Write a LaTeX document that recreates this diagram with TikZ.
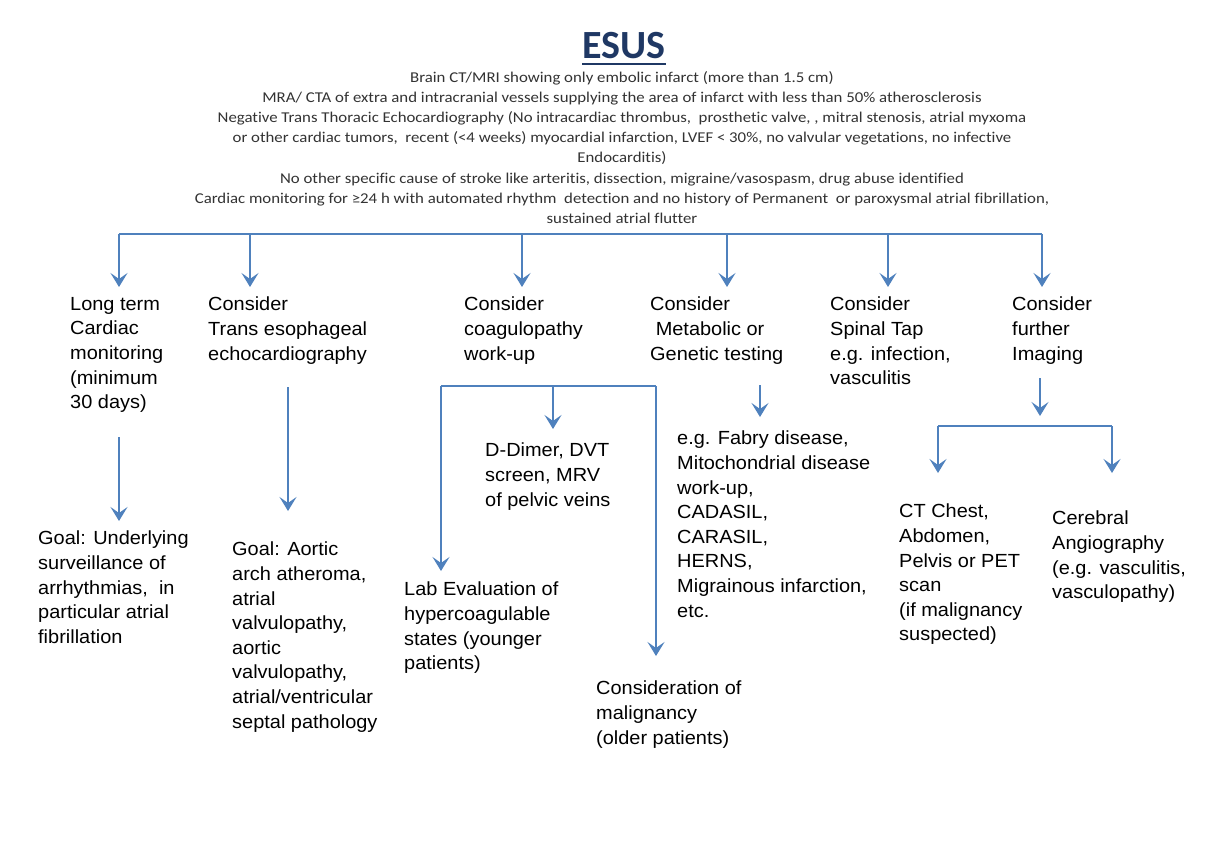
\documentclass[tikz,border=0pt]{standalone}
\usepackage{fontspec}
\setmainfont{Liberation Sans}[FakeStretch=1.05]
\newfontfamily\hdrfont{Carlito}[FakeStretch=1.12,Ligatures=NoCommon]
\newfontfamily\titlefont{Carlito}
\usetikzlibrary{arrows.meta}
\definecolor{linkblue}{HTML}{4F81BD}
\definecolor{esusblue}{HTML}{1F3864}
\definecolor{hdrgray}{HTML}{333333}
\begin{document}
\begin{tikzpicture}[x=1pt,y=-1pt,
	box/.style={anchor=north west,align=left,inner sep=0pt,font=\fontsize{19}{24.6}\selectfont},
	hdr/.style={anchor=north,align=center,inner sep=0pt,text=hdrgray,font=\hdrfont\fontsize{15}{20.2}\selectfont},
	bar/.style={draw=linkblue,line width=1.5pt},
	arr/.style={bar,-{Stealth[length=14pt,width=17pt,inset=6pt]}}]
\useasboundingbox[fill=white] (0,0) rectangle (1225,861);

% title and entry criteria
\node[inner sep=0pt,text=esusblue,font=\titlefont\bfseries\fontsize{40}{40}\selectfont] (esus) at (624,46) {ESUS};
\draw[esusblue,line width=2.5pt] ([yshift=-5pt]esus.base west) -- ([yshift=-5pt]esus.base east);
\node[hdr] (crit) at (622,71) {Brain CT/MRI showing only embolic infarct (more than 1.5 cm)\\
MRA/ CTA of extra and intracranial vessels supplying the area of infarct with less than 50\% atherosclerosis\\
Negative Trans Thoracic Echocardiography (No intracardiac thrombus,\ \ prosthetic valve, , mitral stenosis, atrial myxoma\\
or other cardiac tumors,\ \ recent (<4 weeks) myocardial infarction, LVEF < 30\%, no valvular vegetations, no infective\\
Endocarditis)\\
No other specific cause of stroke like arteritis, dissection, migraine/vasospasm, drug abuse identified\\
Cardiac monitoring for ≥24 h with automated rhythm\ \ detection and no history of Permanent\ \ or paroxysmal atrial fibrillation,\\
sustained atrial flutter};

% first level
\node[box] (ltcm) at (70,297) {Long term\\Cardiac\\monitoring\\(minimum\\30 days)};
\node[box] (tee) at (208,297) {Consider\\Trans esophageal\\echocardiography};
\node[box] (coag) at (464,297) {Consider\\coagulopathy\\work-up};
\node[box] (meta) at (650,297) {Consider\\\ Metabolic or\\Genetic testing};
\node[box] (spin) at (830,297) {Consider\\Spinal Tap\\e.g. infection,\\vasculitis};
\node[box] (img) at (1012,297) {Consider\\further\\Imaging};

\coordinate (tl) at (119,234);
\coordinate (tr) at (1042,234);
\draw[bar] (tl) -- (tr);
\foreach \dx/\n in {119/ltcm,250/tee,522/coag,727/meta,888/spin,1042/img}
	\draw[arr,shorten >=10pt] (\dx,234) -- (\dx,234 |- \n.north);

% second level
\node[box] (goal1) at (38,531) {Goal: Underlying\\surveillance of\\arrhythmias,\ \ in\\particular atrial\\fibrillation};
\node[box] (goal2) at (232,542) {Goal: Aortic\\arch atheroma,\\atrial\\valvulopathy,\\aortic\\valvulopathy,\\atrial/ventricular\\septal pathology};
\draw[arr,shorten >=10pt] (119,437) -- (119,437 |- goal1.north);
\draw[arr,shorten >=31pt] (288,387) -- (288,387 |- goal2.north);

\node[box] (ddim) at (485,443) {D-Dimer, DVT\\screen, MRV\\of pelvic veins};
\node[box] (lab) at (404,582) {Lab Evaluation of\\hypercoagulable\\states (younger\\patients)};
\node[box] (malig) at (596,681) {Consideration of\\malignancy\\(older patients)};
\coordinate (cl) at (441,386);
\coordinate (cr) at (656,386);
\draw[bar] (cl) -- (cr);
\draw[arr,shorten >=14pt] (553,386) -- (553,386 |- ddim.north);
\draw[arr,shorten >=11pt] (cl) -- (cl |- lab.north);
\draw[arr,shorten >=25pt] (cr) -- (cr |- malig.north);

\node[box] (dis) at (677,431) {e.g. Fabry disease,\\Mitochondrial disease\\work-up,\\CADASIL,\\CARASIL,\\HERNS,\\Migrainous infarction,\\etc.};
\draw[arr,shorten >=14pt] (760,385) -- (760,385 |- dis.north);

\node[box] (ct) at (899,504) {CT Chest,\\Abdomen,\\Pelvis or PET\\scan\\(if malignancy\\suspected)};
\node[box] (cereb) at (1052,511) {Cerebral\\Angiography\\(e.g. vasculitis,\\vasculopathy)};
\draw[arr,shorten >=9pt] (1040,378) -- (1040,378 |- 0,425);
\coordinate (il) at (938,426);
\coordinate (ir) at (1112,426);
\draw[bar] (il) -- (ir);
\draw[arr,shorten >=31pt] (il) -- (il |- ct.north);
\draw[arr,shorten >=38pt] (ir) -- (ir |- cereb.north);
\end{tikzpicture}
\end{document}
